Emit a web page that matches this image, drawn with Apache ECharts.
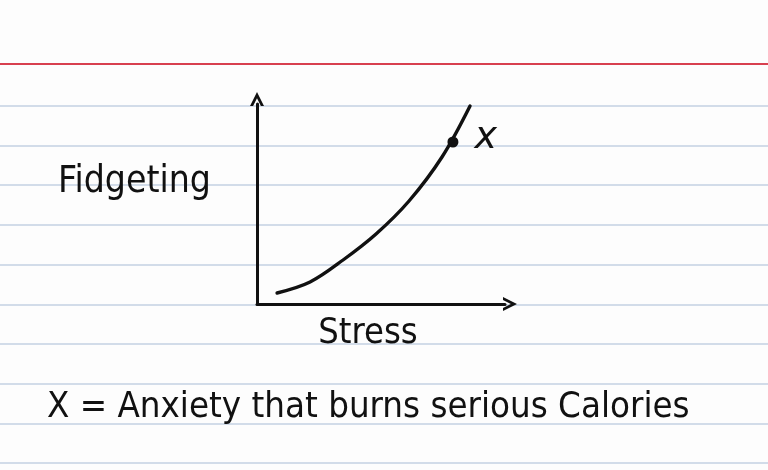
<!DOCTYPE html>
<html>
<head>
<meta charset="utf-8">
<script src="https://cdn.jsdelivr.net/npm/echarts@6/dist/echarts.min.js"></script>
<style>
html,body{margin:0;padding:0;background:#fdfdfd;}
#chart{width:768px;height:470px;}
</style>
</head>
<body>
<div id="chart"></div>
<script>
// Data
const stress =    [0.81, 2.14, 3.47, 4.80, 6.13, 7.46, 8.59];
const fidgeting = [0.55, 1.10, 2.20, 3.50, 5.15, 7.35, 9.90];
const markedPoint = [[7.90, 8.10]];
const markedLabel = 'x';
const xAxisName = 'Stress';
const yAxisName = 'Fidgeting';
const footnote = 'X = Anxiety that burns serious Calories';

const FONT = "'DejaVu Sans Condensed', 'Liberation Sans Narrow', sans-serif";
const chevron = 'path://M0,10 L5,0 L10,10 L7.8,10 L5,4.4 L2.2,10 Z';

// ruled-card decoration
const rules = [];
rules.push({type:'line', z:-10, silent:true, shape:{x1:0,y1:64,x2:768,y2:64}, style:{stroke:'#d8404f', lineWidth:1.8}});
for (let i = 0; i < 10; i++) {
  const y = Math.round(106 + i * 39.7);
  rules.push({type:'line', z:-10, silent:true, shape:{x1:0,y1:y,x2:768,y2:y}, style:{stroke:'#c3d1e2', lineWidth:1.4}});
}

const chart = echarts.init(document.getElementById('chart'));
chart.setOption({
  backgroundColor: '#fdfdfd',
  animation: false,
  graphic: rules,
  title: {
    text: footnote,
    left: 42, top: 385,
    textStyle: {fontFamily: FONT, fontSize: 36.3, fontWeight: 'normal', color: '#111'}
  },
  grid: {left: 257, right: 263, top: 104, bottom: 166},
  xAxis: {
    type: 'value', min: 0, max: 10,
    name: xAxisName, nameLocation: 'middle', nameGap: 12,
    nameTextStyle: {fontFamily: FONT, fontSize: 36, color: '#111', verticalAlign: 'top', padding: [0, 26, 0, 0]},
    axisLine: {show: true, lineStyle: {color: '#111', width: 3}, symbol: ['none', chevron], symbolSize: [22, 14], symbolOffset: [0, 5]},
    axisTick: {show: false}, axisLabel: {show: false}, splitLine: {show: false}
  },
  yAxis: {
    type: 'value', min: 0, max: 10,
    name: yAxisName, nameLocation: 'middle', nameGap: 46, nameRotate: 0,
    nameTextStyle: {fontFamily: FONT, fontSize: 37, color: '#111', verticalAlign: 'bottom', lineHeight: 44},
    axisLine: {show: true, lineStyle: {color: '#111', width: 3}, symbol: ['none', chevron], symbolSize: [22, 14], symbolOffset: [0, 5]},
    axisTick: {show: false}, axisLabel: {show: false}, splitLine: {show: false}
  },
  series: [
    {
      type: 'line', smooth: 0.35, showSymbol: false,
      data: stress.map((s, i) => [s, fidgeting[i]]),
      lineStyle: {color: '#111', width: 3.4, cap: 'round'}
    },
    {
      type: 'scatter', data: markedPoint, symbolSize: 11,
      itemStyle: {color: '#111', opacity: 1},
      label: {show: true, formatter: markedLabel, position: 'right', distance: 16, offset: [0, -4],
        fontFamily: "'DejaVu Sans', sans-serif", fontStyle: 'italic', fontSize: 38, color: '#111'}
    }
  ]
});
</script>
</body>
</html>
